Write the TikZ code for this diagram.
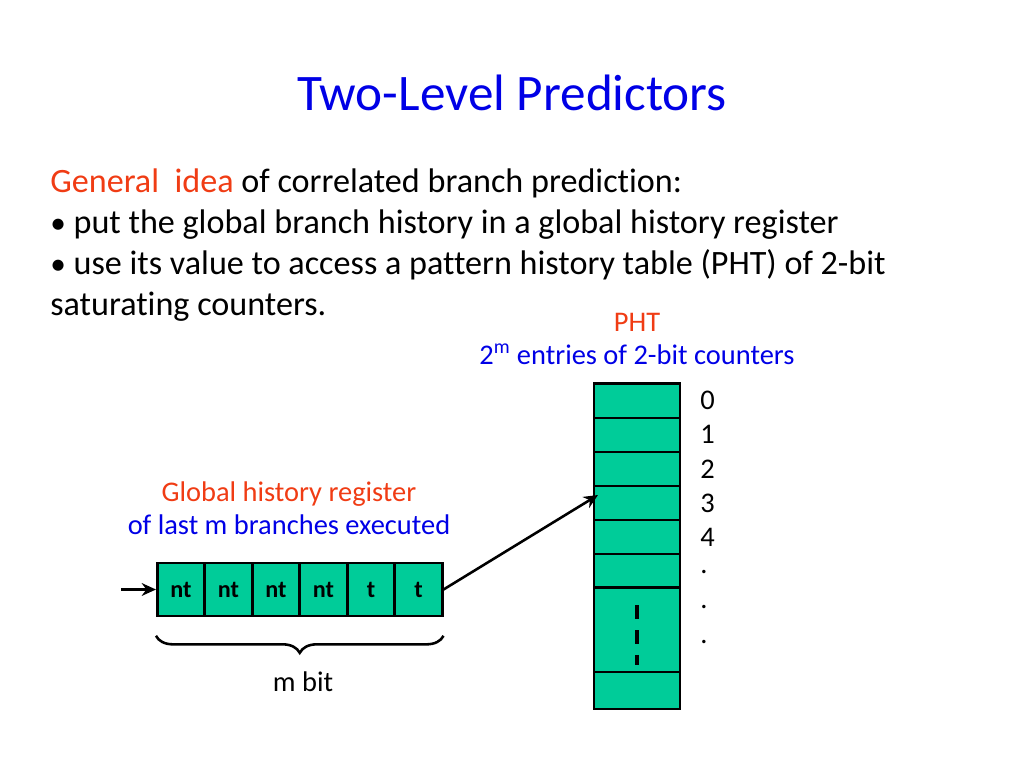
\documentclass[tikz,border=0pt]{standalone}
\usepackage{fontspec}
\setmainfont{Carlito}[Ligatures=NoCommon]
\usetikzlibrary{arrows.meta,decorations.pathreplacing}
\definecolor{slideblue}{RGB}{0,0,230}
\definecolor{slidered}{RGB}{240,60,20}
\definecolor{cellgreen}{RGB}{0,204,153}
\newcommand{\slidebullet}{{\fontsize{22}{22}\selectfont\textbullet}}
\begin{document}
\begin{tikzpicture}[x=0.703pt,y=-0.703pt,
  txt/.style={anchor=base west, inner sep=0pt, font=\fontsize{24}{28}\selectfont},
  lbl/.style={anchor=base, inner sep=0pt, font=\fontsize{20}{24}\selectfont},
  bitcell/.style={draw, rectangle, fill=cellgreen, line width=1.8pt, minimum width=33.4pt, minimum height=37.3pt, inner sep=0pt, font=\fontsize{17}{18}\selectfont\bfseries},
  phtcell/.style={draw, rectangle, fill=cellgreen, line width=1.8pt, minimum width=60.5pt, inner sep=0pt},
  idx/.style={anchor=west, inner sep=0pt, font=\fontsize{20}{24}\selectfont}]
\useasboundingbox (0,0) rectangle (1024,767);

% title and text
\node[anchor=base, inner sep=0pt, text=slideblue, font=\fontsize{36}{40}\selectfont] (title) at (512,110) {Two-Level Predictors};
\node[txt] (line1) at (50,192) {\textcolor{slidered}{General\ \ idea} of correlated branch prediction:};
\node[txt] (line2) at (50,233) {\slidebullet\ put the global branch history in a global history register};
\node[txt] (line3) at (50,274) {\slidebullet\ use its value to access a pattern history table (PHT) of 2-bit};
\node[txt] (line4) at (50,315) {saturating counters.};

% PHT labels
\node[lbl, text=slidered] (phtname) at (637,331) {PHT};
\node[lbl, text=slideblue] (phtsize) at (637,364) {2\textsuperscript{m} entries of 2-bit counters};

% PHT entries
\node[phtcell, minimum height=24.4pt] (pht0) at (637,401) {};
\node[phtcell, minimum height=23.9pt] (pht1) at (637,435) {};
\node[phtcell, minimum height=23.9pt] (pht2) at (637,469) {};
\node[phtcell, minimum height=23.9pt] (pht3) at (637,503) {};
\node[phtcell, minimum height=23.9pt] (pht4) at (637,537) {};
\node[phtcell, minimum height=23.9pt] (pht5) at (637,571) {};
\node[phtcell, minimum height=59.8pt] (pht6) at (637,630) {};
\node[phtcell, minimum height=26.0pt] (pht7) at (637,690.5) {};
\draw[line width=2.4pt, dash pattern=on 9.5pt off 8pt] (pht6.north) ++(0,19) -- ++(0,60);

% PHT index
\node[idx] (i0) at (700,400) {0};
\node[idx] (i1) at (700,434) {1};
\node[idx] (i2) at (700,469) {2};
\node[idx] (i3) at (700,503) {3};
\node[idx] (i4) at (700,537) {4};
\node[idx] (i5) at (700,572) {.};
\node[idx] (i6) at (700,607) {.};
\node[idx] (i7) at (700,642) {.};

% global history register
\node[lbl, text=slidered] (ghrname) at (289,501) {Global history register};
\node[lbl, text=slideblue] (ghrinfo) at (289,534) {of last m branches executed};
\node[bitcell] (r1) at (181,589.5) {nt};
\node[bitcell] (r2) at (228.5,589.5) {nt};
\node[bitcell] (r3) at (276,589.5) {nt};
\node[bitcell] (r4) at (323.5,589.5) {nt};
\node[bitcell] (r5) at (371,589.5) {t};
\node[bitcell] (r6) at (418.5,589.5) {t};
\coordinate (shiftin) at (121,589.5);
\coordinate (hit) at (598,495);

\draw[-{Stealth[length=10pt,width=9pt]}, line width=1.8pt] (shiftin) -- (r1.west);
\draw[-{Stealth[length=10pt,width=9pt]}, line width=1.8pt] (r6.east) -- (hit);

% m bit
\draw[decorate, decoration={brace, mirror, amplitude=12pt}, line width=1.8pt]
  ([yshift=-13pt]r1.south west) -- ([yshift=-13pt]r6.south east);
\node[lbl] (mbit) at (303,691) {m bit};
\end{tikzpicture}
\end{document}
